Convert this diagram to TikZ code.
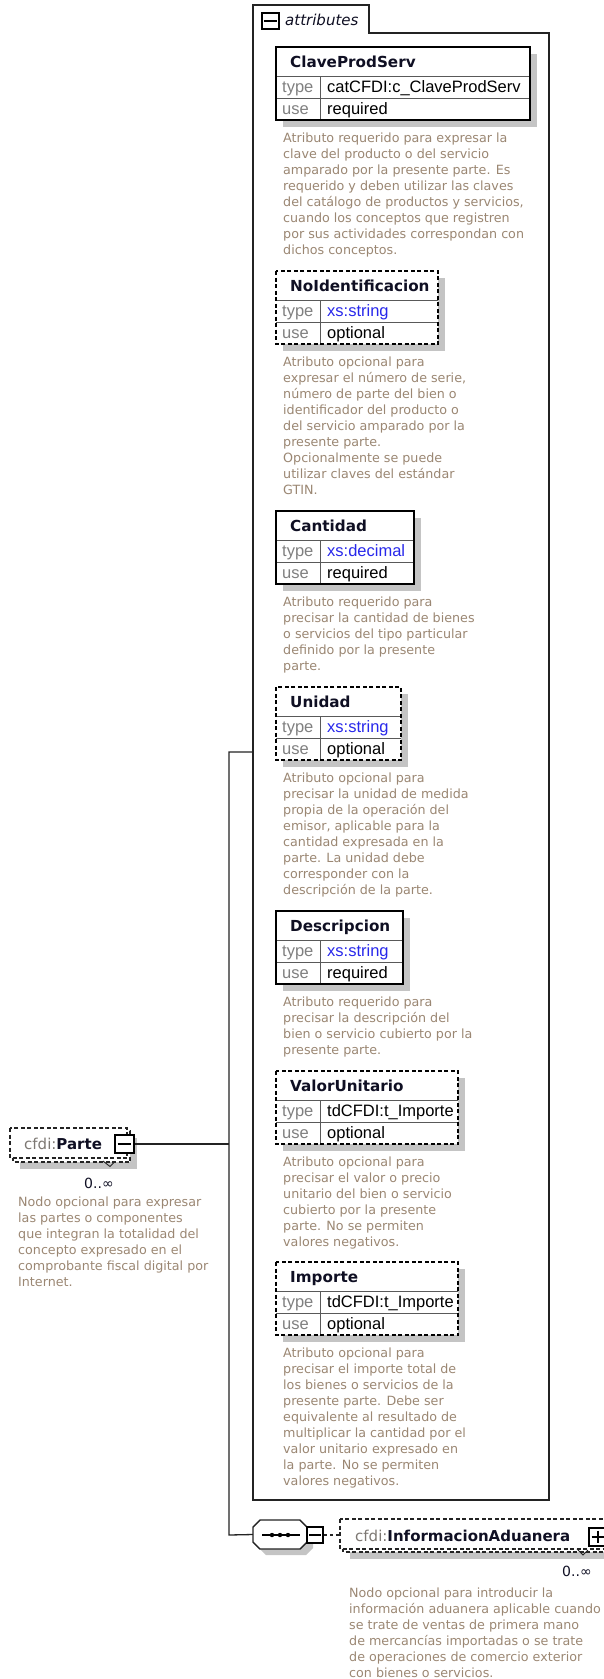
\documentclass[tikz,border=0pt]{standalone}
\usepackage{fontspec}
\setmainfont{DejaVu Sans}
\newfontfamily\arialf{Liberation Sans}
\definecolor{descc}{RGB}{155,135,115}
\definecolor{labc}{RGB}{128,128,128}
\definecolor{prefc}{RGB}{125,120,115}
\definecolor{namec}{RGB}{15,15,35}
\definecolor{shadowgray}{RGB}{196,196,196}
\definecolor{linec}{RGB}{35,35,35}
\definecolor{typeblue}{RGB}{40,40,235}

\newcommand\attrbox[8]{%
  \pgfmathsetmacro\bT{#2}%
  \pgfmathsetmacro\bH{#2+29}%
  \pgfmathsetmacro\bY{#2+51}%
  \pgfmathsetmacro\bB{#2+73}%
  \fill[shadowgray] (283,\bT+7) rectangle (#3+7,\bB+7);
  \fill[white] (276,\bT) rectangle (#3,\bB);
  \draw[innerline] (276,\bH) -- (#3,\bH) (276,\bY) -- (#3,\bY) (320,\bH) -- (320,\bB);
  \draw[boxline,#7] (276,\bT) rectangle (#3,\bB);
  \node[titlef,anchor=base west] (#1-name) at (290,\bT+20) {#4};
  \node[labf,anchor=base west] (#1-type) at (282,\bY-5.5) {type};
  \node[valf,anchor=base west] (#1-typev) at (327,\bY-5.5) {#5};
  \node[labf,anchor=base west] (#1-use) at (282,\bB-5.5) {use};
  \node[valf,anchor=base west] (#1-usev) at (327,\bB-5.5) {#6};
  \node[descf] (#1-doc) at (283,\bB+10.8) {\strut #8};
}

\begin{document}
\begin{tikzpicture}[x=1pt,y=-1pt,
  descf/.style={font=\fontsize{12.7}{16}\selectfont, text=descc, align=left, inner sep=0pt, anchor=north west},
  titlef/.style={font=\bfseries\fontsize{15.2}{18}\selectfont, text=namec, inner sep=0pt},
  elemf/.style={font=\fontsize{15}{18}\selectfont, text=namec, inner sep=0pt},
  labf/.style={font=\arialf\fontsize{16.5}{19}\selectfont, text=labc, inner sep=0pt},
  valf/.style={font=\arialf\fontsize{16.5}{19}\selectfont, text=black, inner sep=0pt},
  multf/.style={font=\fontsize{14}{16}\selectfont, text=namec, inner sep=0pt},
  boxline/.style={draw=black, line width=1.7pt},
  dashbox/.style={dash pattern=on 4pt off 2.5pt},
  innerline/.style={draw=black!65, line width=0.9pt},
  btn/.style={draw=black, line width=1.8pt, fill=white, minimum width=17pt, minimum height=16pt, inner sep=0pt},
  conn/.style={draw=linec, line width=1.3pt},
  elbox/.style={draw=linec, line width=1.4pt, dash pattern=on 4pt off 2.5pt, fill=white},
  notch/.style={draw=linec, line width=0.9pt}
]
\useasboundingbox (0,0) rectangle (604,1679);
\clip (0,0) rectangle (604,1679);

% ---------- attributes container ----------
\draw[draw=linec, line width=1.6pt, fill=white]
  (253,1500) -- (253,5) -- (369,5) -- (369,33) -- (549,33) -- (549,1500) -- cycle;
\node[btn] (attrbtn) at (270.5,21) {};
\draw[line width=1.6pt] ([xshift=3pt]attrbtn.west) -- ([xshift=-3pt]attrbtn.east);
\node[font=\itshape\fontsize{15}{18}\selectfont, text=namec, inner sep=0pt, anchor=base west] (attrlbl) at (285,25) {attributes};

\attrbox{clave}{47}{530}{ClaveProdServ}{catCFDI:c\_ClaveProdServ}{required}{solid}{Atributo requerido para expresar la\\clave del producto o del servicio\\amparado por la presente parte. Es\\requerido y deben utilizar las claves\\del catálogo de productos y servicios,\\cuando los conceptos que registren\\por sus actividades correspondan con\\dichos conceptos.}

\attrbox{noid}{271}{438}{NoIdentificacion}{\textcolor{typeblue}{xs:string}}{optional}{dashbox}{Atributo opcional para\\expresar el número de serie,\\número de parte del bien o\\identificador del producto o\\del servicio amparado por la\\presente parte.\\Opcionalmente se puede\\utilizar claves del estándar\\GTIN.}

\attrbox{cant}{511}{414}{Cantidad}{\textcolor{typeblue}{xs:decimal}}{required}{solid}{Atributo requerido para\\precisar la cantidad de bienes\\o servicios del tipo particular\\definido por la presente\\parte.}

\attrbox{unidad}{687}{401}{Unidad}{\textcolor{typeblue}{xs:string}}{optional}{dashbox}{Atributo opcional para\\precisar la unidad de medida\\propia de la operación del\\emisor, aplicable para la\\cantidad expresada en la\\parte. La unidad debe\\corresponder con la\\descripción de la parte.}

\attrbox{desc}{911}{403}{Descripcion}{\textcolor{typeblue}{xs:string}}{required}{solid}{Atributo requerido para\\precisar la descripción del\\bien o servicio cubierto por la\\presente parte.}

\attrbox{valor}{1071}{458}{ValorUnitario}{tdCFDI:t\_Importe}{optional}{dashbox}{Atributo opcional para\\precisar el valor o precio\\unitario del bien o servicio\\cubierto por la presente\\parte. No se permiten\\valores negativos.}

\attrbox{importe}{1262}{458}{Importe}{tdCFDI:t\_Importe}{optional}{dashbox}{Atributo opcional para\\precisar el importe total de\\los bienes o servicios de la\\presente parte. Debe ser\\equivalente al resultado de\\multiplicar la cantidad por el\\valor unitario expresado en\\la parte. No se permiten\\valores negativos.}

% ---------- cfdi:Parte ----------
\fill[shadowgray] (20,1138) rectangle (137,1169);
\draw[elbox] (13,1131) rectangle (130,1162);
\draw[elbox] (10,1128) rectangle (127,1158);
\node[elemf, anchor=base west] (parte) at (24,1149) {\textcolor{prefc}{cfdi:}\textbf{Parte}};
\node[btn, minimum width=19pt, minimum height=18pt] (partebtn) at (124.5,1144) {};
\draw[line width=1.6pt] ([xshift=3.5pt]partebtn.west) -- ([xshift=-3.5pt]partebtn.east);
\draw[notch] (103,1161) -- (110,1166.5) -- (114.5,1162);
\node[multf, anchor=base west] (partemult) at (84,1188) {0..∞};
\node[descf] (partedoc) at (18,1194.8) {\strut Nodo opcional para expresar\\las partes o componentes\\que integran la totalidad del\\concepto expresado en el\\comprobante fiscal digital por\\Internet.};

% ---------- connectors ----------
\coordinate (jtop) at (229,752);
\coordinate (jbot) at (229,1535);
\coordinate (attrin) at (253,752);
\node[inner sep=0pt, minimum width=54pt, minimum height=29pt] (seq) at (280,1534.5) {};
\draw[conn] (partebtn.east) -- (partebtn.east -| jtop);
\draw[conn] (attrin) -- (jtop) -- (jbot) -- (seq.west);

% ---------- sequence compositor ----------
\fill[shadowgray] (266,1526) -- (306,1526) -- (313,1533) -- (313,1548) -- (306,1555) -- (266,1555) -- (259,1548) -- (259,1533) -- cycle;
\draw[draw=linec, line width=1.4pt, fill=white] (260,1520) -- (300,1520) -- (307,1527) -- (307,1542) -- (300,1549) -- (260,1549) -- (253,1542) -- (253,1527) -- cycle;
\draw[line width=1.2pt] (262,1535) -- (300,1535);
\foreach \dx in {272,280,288} \fill (\dx,1535) circle (2.2pt);
\node[btn, minimum width=16pt, minimum height=16pt] (seqbtn) at (315,1535) {};
\draw[line width=1.6pt] ([xshift=3pt]seqbtn.west) -- ([xshift=-3pt]seqbtn.east);

% ---------- cfdi:InformacionAduanera ----------
\fill[shadowgray] (350,1529) rectangle (615,1559);
\draw[elbox] (343,1522) rectangle (610,1552);
\draw[elbox] (340,1519) rectangle (607,1549);
\node[inner sep=0pt, minimum width=1pt, minimum height=1pt] (infoin) at (340,1535) {};
\draw[draw=linec, line width=1.2pt, dash pattern=on 3pt off 3pt] (seqbtn.east) -- (infoin.center);
\node[elemf, anchor=base west] (info) at (355,1541) {\textcolor{prefc}{cfdi:}\textbf{InformacionAduanera}};
\node[btn, minimum width=18pt, minimum height=18pt] (infobtn) at (598,1537) {};
\draw[line width=1.6pt] ([xshift=3.5pt]infobtn.west) -- ([xshift=-3.5pt]infobtn.east);
\draw[line width=1.6pt] ([yshift=-3.5pt]infobtn.north) -- ([yshift=3.5pt]infobtn.south);
\draw[notch] (577,1549) -- (583,1555) -- (588,1550);
\node[multf, anchor=base west] (infomult) at (562,1576) {0..∞};
\node[descf] (infodoc) at (349,1585.8) {\strut Nodo opcional para introducir la\\información aduanera aplicable cuando\\se trate de ventas de primera mano\\de mercancías importadas o se trate\\de operaciones de comercio exterior\\con bienes o servicios.};
\end{tikzpicture}
\end{document}
